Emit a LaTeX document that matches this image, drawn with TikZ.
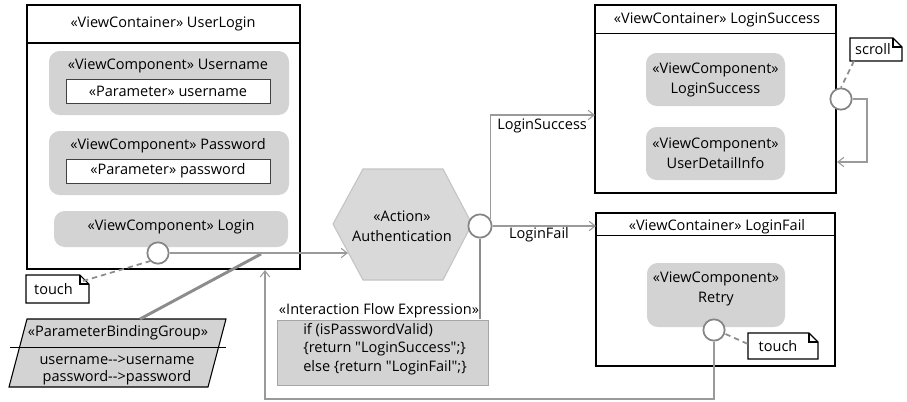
\documentclass[tikz,border=0pt]{standalone}
\usepackage{fontspec}
\setmainfont{Open Sans}[Ligatures=TeXOff]
\usetikzlibrary{arrows.meta,fit,calc}
\definecolor{compgray}{HTML}{D3D3D3}
\definecolor{hexgray}{HTML}{D9D9D9}
\definecolor{hexline}{HTML}{C4C4C4}
\definecolor{flowgray}{HTML}{9A9A9A}
\definecolor{thickgray}{HTML}{8C8C8C}
\definecolor{portgray}{HTML}{858585}
\newcommand{\fsz}{\fontsize{10.9}{13}\selectfont}
\tikzset{
  x=0.75pt, y=-0.75pt,
  every node/.style={font=\fsz, inner sep=0pt, text=black},
  box/.style={inner sep=0pt, outer sep=0pt},
  container/.style={box, draw=black, line width=0.9pt, fill=white},
  comp/.style={box, fill=compgray, rounded corners=8pt},
  param/.style={box, draw=black!75, line width=0.7pt, fill=white},
  flow/.style={draw=flowgray, line width=0.8pt, -{Straight Barb[length=4.5pt,width=7pt]}},
  bind/.style={draw=thickgray, line width=2.2pt},
  dashline/.style={draw=thickgray, line width=1.3pt, dash pattern=on 4pt off 3pt},
  port/.style={circle, draw=portgray, line width=1.3pt, fill=white, minimum size=16pt, inner sep=0pt},
  notebox/.style={draw=black, line width=0.8pt, fill=white},
}
\newcommand{\notepath}[1]{%
  \draw[notebox] (#1.north west) -- ($(#1.north east)+(-9,0)$) -- ($(#1.north east)+(0,9)$) -- (#1.south east) -- (#1.south west) -- cycle;
  \draw[black, line width=0.8pt] ($(#1.north east)+(-9,0)$) |- ($(#1.north east)+(0,9)$);}
\begin{document}
\begin{tikzpicture}
\useasboundingbox (0,0) rectangle (907,401);
\fill[white] (0,0) rectangle (907,401);

% ---------- UserLogin container ----------
\node[container, fit={(27,5) (300,269)}] (ul) {};
\draw[black, line width=0.9pt] (27,43) -- (300,43);
\node (ultitle) at (163,24) {«ViewContainer» UserLogin};

\node[comp, fit={(49,51) (289,115)}] (uncomp) {};
\node (untitle) at (168,66) {«ViewComponent» Username};
\node[param, fit={(66,79) (270,103)}] (unparam) {};
\node at (unparam.center) {«Parameter» username};

\node[comp, fit={(49,131) (289,195)}] (pwcomp) {};
\node (pwtitle) at (168,146) {«ViewComponent» Password};
\node[param, fit={(66,159) (270,183)}] (pwparam) {};
\node at (pwparam.center) {«Parameter» password};

\node[comp, fit={(54,211) (288,247)}] (lgcomp) {};
\node (lgtitle) at (171,227) {«ViewComponent» Login};
\node[port] (lport) at (158,253) {};

% touch note (left)
\node[box, fit={(26,275) (89,303)}] (note1) {};
\notepath{note1}
\node at ($(note1.center)+(-4,0)$) {touch};
\draw[dashline] ($(note1.north east)+(-6,6)$) -- (lport.south west);

% ---------- Parameter binding group ----------
\draw[black, line width=0.8pt, fill=compgray] (27,319) -- (226,319) -- (208,387) -- (9,387) -- cycle;
\draw[black, line width=0.6pt] (10,347) -- (226,347);
\node (pbgtitle) at (118,333) {«ParameterBindingGroup»};
\node (pbg1) at (117,360) {username-->username};
\node (pbg2) at (117,378) {password-->password};
\coordinate (pbgtop) at (140,319);
\coordinate (bindend) at (261,254);
\draw[bind] (pbgtop) -- (bindend);

% ---------- Action ----------
\draw[hexline, line width=0.8pt, fill=hexgray] (333,224) -- (363,169) -- (443,169) -- (472,224) -- (443,280) -- (363,280) -- cycle;
\node[align=center] (auth) at (402,226) {«Action»\\[2pt]Authentication};
\coordinate (authin) at (348,253);
\draw[flow] (lport.east) -- (authin);
\node[port, minimum size=17.5pt] (aport) at (480,226) {};

% ---------- Interaction flow expression ----------
\node (ifelabel) at (379,311) {«Interaction Flow Expression»};
\node[box, fill=compgray, draw=black!35, line width=0.6pt, fit={(277,320) (488,385)}] (ife) {};
\node[anchor=west] at (303,330) {if (isPasswordValid)};
\node[anchor=west] at (303,349) {\{return "LoginSuccess";\}};
\node[anchor=west] at (303,368) {else \{return "LoginFail";\}};
\coordinate (ifetop) at (480,319);
\draw[bind] (aport.south) -- (ifetop);

% ---------- LoginSuccess container ----------
\node[container, fit={(595,5) (836,193)}] (ls) {};
\draw[black, line width=0.7pt] (595,33) -- (836,33);
\node (lstitle) at (717,20) {«ViewContainer» LoginSuccess};
\node[comp, fit={(646,53) (785,106)}] (lscomp1) {};
\node[align=center] at (lscomp1.center) {«ViewComponent»\\[2pt]LoginSuccess};
\node[comp, fit={(646,127) (785,180)}] (lscomp2) {};
\node[align=center] at (lscomp2.center) {«ViewComponent»\\[2pt]UserDetailInfo};
\node[port] (sport) at (841,99) {};
\coordinate (scrollcorner) at (867,99);
\coordinate (lsret) at (837,162);
\draw[flow] (sport.east) -- (scrollcorner) |- (lsret);
\node[box, fit={(850,38) (902,61)}] (note2) {};
\notepath{note2}
\node at ($(note2.center)+(-3,0)$) {scroll};
\draw[dashline] (note2.south west) ++(4,0) coordinate (n2a) (n2a) -- (sport.north);

\coordinate (lsin) at (595,115);
\draw[flow] (aport.34) |- (lsin);
\node[anchor=west] (lslabel) at (497,126) {LoginSuccess};

% ---------- LoginFail container ----------
\node[container, fit={(596,213) (835,366)}] (lf) {};
\draw[black, line width=0.7pt] (596,235) -- (835,235);
\node (lftitle) at (717,227) {«ViewContainer» LoginFail};
\coordinate (lfin) at (596,226);
\draw[flow] (aport.east) -- (lfin);
\node (lflabel) at (539,235) {LoginFail};

\node[comp, fit={(647,263) (785,327)}] (retry) {};
\node[align=center] at ($(retry.center)+(0,-6)$) {«ViewComponent»\\[2pt]Retry};
\node[port] (rport) at (714,330) {};
\node[box, fit={(748,333) (818,359)}] (note3) {};
\notepath{note3}
\node at ($(note3.center)+(-5,0)$) {touch};
\draw[dashline] (rport.east) ++(0,4) coordinate (rpa) (rpa) -- ($(note3.west)+(0,-2)$);

% return flow
\coordinate (retbot) at (265,399);
\coordinate (ulin) at (265,270);
\draw[flow] (rport.south) |- (retbot) -- (ulin);
\end{tikzpicture}
\end{document}
